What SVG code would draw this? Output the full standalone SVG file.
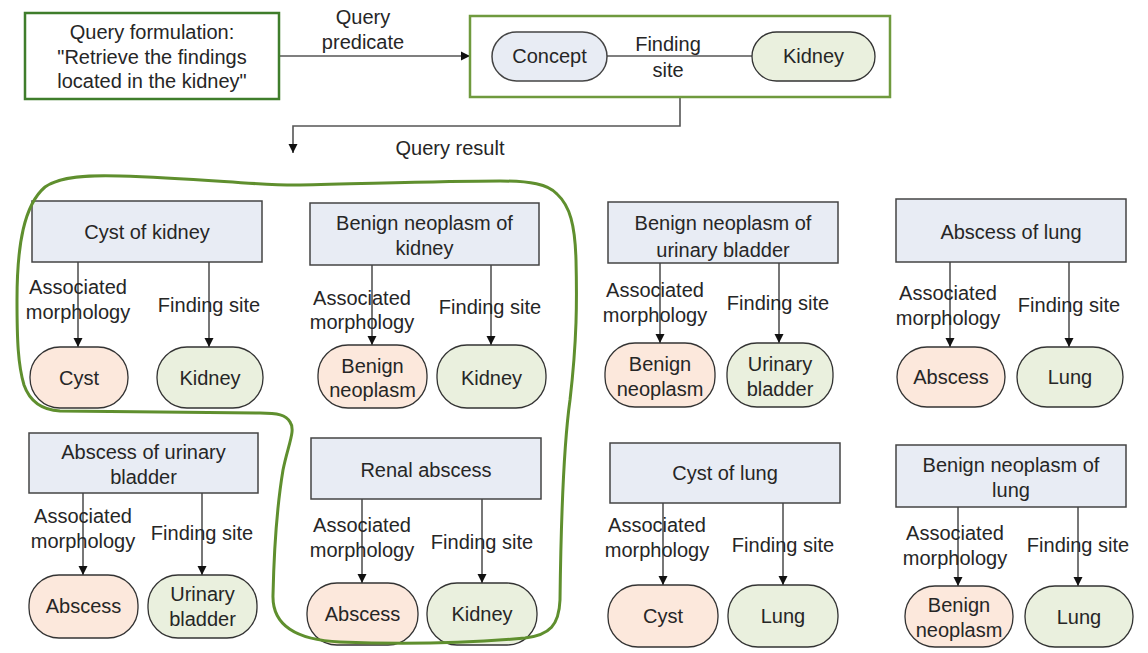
<svg xmlns="http://www.w3.org/2000/svg" width="1148" height="653" viewBox="0 0 1148 653">
  <defs>
    <marker id="arrow" markerWidth="10" markerHeight="10" refX="9" refY="5" orient="auto" markerUnits="userSpaceOnUse">
      <path d="M0,0.5 L9,5 L0,9.5 Z" fill="#111"/>
    </marker>
    <style>
      text { font-family: "Liberation Sans", Arial, sans-serif; font-size: 20px; fill: #262626; text-anchor: middle; }
      .frame { fill: #fff; stroke-width: 2.5; }
      .concept { fill: #e8ecf4; stroke: #444; stroke-width: 1.5; }
      .morph { fill: #fce8dc; stroke: #333; stroke-width: 1.3; }
      .site { fill: #eaf0de; stroke: #333; stroke-width: 1.3; }
      .edge { fill: none; stroke: #555; stroke-width: 1.6; }
      .rel { fill: none; stroke: #555; stroke-width: 1.6; marker-end: url(#arrow); }
      .lasso { fill: none; stroke: #5f8f2e; stroke-width: 3; stroke-linejoin: round; }
    </style>
  </defs>
  <rect width="1148" height="653" fill="#fff"/>

  <!-- connectors -->
  <g id="connectors">
    <path class="rel" d="M280,56 L470,56"/>
    <path class="edge" d="M607,56 L752,56"/>
    <path class="rel" d="M680,97 L680,126 L293,126 L293,153"/>
    <!-- Cyst of kidney -->
    <path class="rel" d="M78,262 L78,347"/>
    <path class="rel" d="M209,262 L209,347"/>
    <!-- Benign neoplasm of kidney -->
    <path class="rel" d="M372,265 L372,345"/>
    <path class="rel" d="M491,265 L491,345"/>
    <!-- Benign neoplasm of urinary bladder -->
    <path class="rel" d="M660,263 L660,343"/>
    <path class="rel" d="M779,263 L779,343"/>
    <!-- Abscess of lung -->
    <path class="rel" d="M950,262 L950,347"/>
    <path class="rel" d="M1069,262 L1069,347"/>
    <!-- Abscess of urinary bladder -->
    <path class="rel" d="M83,493 L83,575"/>
    <path class="rel" d="M202,493 L202,575"/>
    <!-- Renal abscess -->
    <path class="rel" d="M362,499 L362,583"/>
    <path class="rel" d="M482,499 L482,583"/>
    <!-- Cyst of lung -->
    <path class="rel" d="M663,503 L663,585"/>
    <path class="rel" d="M783,503 L783,585"/>
    <!-- Benign neoplasm of lung -->
    <path class="rel" d="M958,507 L958,586"/>
    <path class="rel" d="M1078,507 L1078,586"/>
  </g>

  <!-- connector labels -->
  <g id="edge-labels">
    <text x="363" y="24">Query</text>
    <text x="363" y="49">predicate</text>
    <text x="668" y="51">Finding</text>
    <text x="668" y="77">site</text>
    <text x="450" y="155">Query result</text>

    <text x="78" y="294">Associated</text>
    <text x="78" y="319">morphology</text>
    <text x="209" y="312">Finding site</text>

    <text x="362" y="305">Associated</text>
    <text x="362" y="329">morphology</text>
    <text x="490" y="314">Finding site</text>

    <text x="655" y="297">Associated</text>
    <text x="655" y="322">morphology</text>
    <text x="778" y="310">Finding site</text>

    <text x="948" y="300">Associated</text>
    <text x="948" y="325">morphology</text>
    <text x="1069" y="312">Finding site</text>

    <text x="83" y="523">Associated</text>
    <text x="83" y="548">morphology</text>
    <text x="202" y="540">Finding site</text>

    <text x="362" y="532">Associated</text>
    <text x="362" y="557">morphology</text>
    <text x="482" y="549">Finding site</text>

    <text x="657" y="532">Associated</text>
    <text x="657" y="557">morphology</text>
    <text x="783" y="552">Finding site</text>

    <text x="955" y="540">Associated</text>
    <text x="955" y="565">morphology</text>
    <text x="1078" y="552">Finding site</text>
  </g>

  <!-- query -->
  <g id="query">
    <rect class="frame" x="25" y="13" width="254" height="86" stroke="#3f7d2b"/>
    <text x="152" y="39">Query formulation:</text>
    <text x="152" y="64">"Retrieve the findings</text>
    <text x="152" y="88">located in the kidney"</text>
  </g>

  <g id="predicate">
    <rect x="470" y="16" width="420" height="81" fill="none" stroke="#6f9a3e" stroke-width="2.5"/>
  </g>
  <g id="concept">
    <rect class="concept" x="492" y="32" width="115" height="49" rx="24.5" stroke="#333"/>
    <text x="549.5" y="63">Concept</text>
  </g>
  <g id="kidney-site">
    <rect class="site" x="752" y="32" width="123" height="49" rx="24.5"/>
    <text x="813.5" y="63">Kidney</text>
  </g>

  <!-- Cyst of kidney -->
  <g id="cyst-of-kidney">
    <rect class="concept" x="32" y="201" width="230" height="61"/>
    <text x="147" y="239">Cyst of kidney</text>
  </g>
  <g id="cyst-1">
    <rect class="morph" x="30" y="347" width="98" height="61" rx="30"/>
    <text x="79" y="385">Cyst</text>
  </g>
  <g id="kidney-1">
    <rect class="site" x="157" y="347" width="106" height="61" rx="30"/>
    <text x="210" y="385">Kidney</text>
  </g>

  <!-- Benign neoplasm of kidney -->
  <g id="benign-neoplasm-of-kidney">
    <rect class="concept" x="310" y="203" width="229" height="62"/>
    <text x="424.5" y="230">Benign neoplasm of</text>
    <text x="424.5" y="255">kidney</text>
  </g>
  <g id="benign-neoplasm-1">
    <rect class="morph" x="318" y="345" width="109" height="63" rx="30"/>
    <text x="372.5" y="373">Benign</text>
    <text x="372.5" y="397">neoplasm</text>
  </g>
  <g id="kidney-2">
    <rect class="site" x="437" y="345" width="109" height="63" rx="30"/>
    <text x="491.5" y="385">Kidney</text>
  </g>

  <!-- Benign neoplasm of urinary bladder -->
  <g id="benign-neoplasm-of-urinary-bladder">
    <rect class="concept" x="608" y="202" width="230" height="61"/>
    <text x="723" y="230">Benign neoplasm of</text>
    <text x="723" y="257">urinary bladder</text>
  </g>
  <g id="benign-neoplasm-2">
    <rect class="morph" x="605" y="343" width="110" height="64" rx="30"/>
    <text x="660" y="371">Benign</text>
    <text x="660" y="396">neoplasm</text>
  </g>
  <g id="urinary-bladder-1">
    <rect class="site" x="727" y="343" width="106" height="64" rx="30"/>
    <text x="780" y="371">Urinary</text>
    <text x="780" y="396">bladder</text>
  </g>

  <!-- Abscess of lung -->
  <g id="abscess-of-lung">
    <rect class="concept" x="896" y="199" width="230" height="63"/>
    <text x="1011" y="239">Abscess of lung</text>
  </g>
  <g id="abscess-1">
    <rect class="morph" x="897" y="347" width="108" height="60" rx="30"/>
    <text x="951" y="384">Abscess</text>
  </g>
  <g id="lung-1">
    <rect class="site" x="1017" y="347" width="106" height="60" rx="30"/>
    <text x="1070" y="384">Lung</text>
  </g>

  <!-- Abscess of urinary bladder -->
  <g id="abscess-of-urinary-bladder">
    <rect class="concept" x="29" y="433" width="229" height="60"/>
    <text x="143.5" y="459">Abscess of urinary</text>
    <text x="143.5" y="484">bladder</text>
  </g>
  <g id="abscess-2">
    <rect class="morph" x="29" y="575" width="109" height="63" rx="30"/>
    <text x="83.5" y="613">Abscess</text>
  </g>
  <g id="urinary-bladder-2">
    <rect class="site" x="148" y="575" width="109" height="63" rx="30"/>
    <text x="202.5" y="601">Urinary</text>
    <text x="202.5" y="626">bladder</text>
  </g>

  <!-- Renal abscess -->
  <g id="renal-abscess">
    <rect class="concept" x="311" y="438" width="230" height="61"/>
    <text x="426" y="477">Renal abscess</text>
  </g>
  <g id="abscess-3">
    <rect class="morph" x="307" y="583" width="111" height="62" rx="30"/>
    <text x="362.5" y="621">Abscess</text>
  </g>
  <g id="kidney-3">
    <rect class="site" x="427" y="583" width="110" height="62" rx="30"/>
    <text x="482" y="621">Kidney</text>
  </g>

  <!-- Cyst of lung -->
  <g id="cyst-of-lung">
    <rect class="concept" x="610" y="443" width="230" height="60"/>
    <text x="725" y="480">Cyst of lung</text>
  </g>
  <g id="cyst-2">
    <rect class="morph" x="608" y="585" width="110" height="62" rx="30"/>
    <text x="663" y="623">Cyst</text>
  </g>
  <g id="lung-2">
    <rect class="site" x="728" y="585" width="110" height="62" rx="30"/>
    <text x="783" y="623">Lung</text>
  </g>

  <!-- Benign neoplasm of lung -->
  <g id="benign-neoplasm-of-lung">
    <rect class="concept" x="896" y="445" width="230" height="62"/>
    <text x="1011" y="472">Benign neoplasm of</text>
    <text x="1011" y="497">lung</text>
  </g>
  <g id="benign-neoplasm-3">
    <rect class="morph" x="905" y="586" width="108" height="61" rx="30"/>
    <text x="959" y="612">Benign</text>
    <text x="959" y="637">neoplasm</text>
  </g>
  <g id="lung-3">
    <rect class="site" x="1025" y="586" width="108" height="61" rx="30"/>
    <text x="1079" y="624">Lung</text>
  </g>

  <!-- hand-drawn outline around the kidney findings, drawn over the boxes -->
  <path class="lasso" d="M17,300 C17,245 24,205 45,187 C60,176 90,175 120,176 C200,178 260,186 300,185 C360,184 440,181 500,181 C530,181 548,184 557,194 C570,206 575,225 576,260 C577,300 577,340 570,400 C563,450 561,520 560,600 C559,625 550,635 525,638 C480,642 420,645 340,642 C295,640 272,625 273,595 C274,550 278,500 283,470 C288,445 296,430 290,422 C286,415 278,413 260,413 C200,412 120,412 60,411 C42,410 30,402 24,385 C18,365 17,340 17,300 Z"/>
</svg>
